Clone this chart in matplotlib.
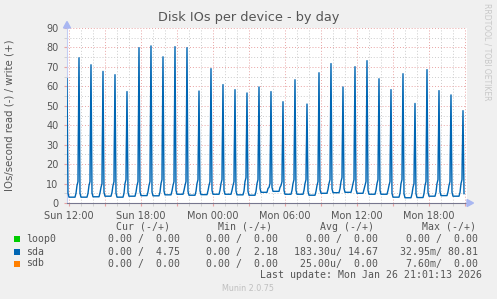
import matplotlib
matplotlib.use('Agg')
import matplotlib.pyplot as plt
import numpy as np
from matplotlib.patches import Rectangle, Polygon
from matplotlib.colors import LinearSegmentedColormap
from matplotlib.ticker import FixedLocator, FuncFormatter, MultipleLocator

W, H = 497, 299

# sda writes: peak of each burst, one burst every hour at hh:50 (first one at the left edge)
peaks = [64.0, 74.7, 71.1, 67.7, 66.0, 57.3, 79.9, 80.8, 75.2, 80.4, 79.9, 57.6,
         69.1, 60.9, 58.3, 56.6, 59.7, 57.3, 52.1, 63.4, 50.9, 67.0, 71.7, 59.7,
         70.1, 73.2, 63.9, 58.3, 66.5, 51.2, 68.6, 57.8, 55.6, 47.5]
# quiet level between two bursts
baselines = [3.0, 3.0, 3.2, 3.5, 3.0, 3.5, 3.8, 3.7, 4.2, 4.5, 4.0, 4.3, 4.5,
             4.5, 4.2, 4.0, 5.5, 6.0, 4.5, 4.5, 4.0, 5.0, 5.3, 5.5, 5.0, 4.5,
             4.5, 3.0, 2.7, 2.8, 3.5, 3.8, 3.5]
# level just before each burst
shoulders = [11, 11, 10, 11, 12, 11, 11, 12, 11, 11, 12, 11, 12, 11, 13, 12, 10,
             11, 12, 12, 11, 12, 13, 12, 11, 12, 11, 12, 10, 11, 12, 11, 12]
last_value = 4.8

tick_hours = [12, 18, 24, 30, 36, 42]
tick_labels = ['Sun 12:00', 'Sun 18:00', 'Mon 00:00', 'Mon 06:00', 'Mon 12:00', 'Mon 18:00']

legend_names = ['loop0', 'sda', 'sdb']
legend_colors = ['#00cc00', '#0066b3', '#ff8000']
cur_vals = ['0.00 /  0.00', '0.00 /  4.75', '0.00 /  0.00']
min_vals = ['0.00 /  0.00', '0.00 /  2.18', '0.00 /  0.00']
avg_vals = ['0.00 /  0.00', '183.30u/ 14.67', '25.00u/  0.00']
max_vals = ['0.00 /  0.00', '32.95m/ 80.81', '7.60m/  0.00']

# 5 minute samples, hours counted from Sun 00:00
step = 5 / 60
t, v = [], []
spike_idx = []
for k, p in enumerate(peaks):
    t0 = 11 + 50 / 60 + k
    spike_idx.append(len(t))
    t.append(t0)
    v.append(p)
    if k < len(baselines):
        b, s = baselines[k], shoulders[k]
        seg = [b + 2, b, b, b, b, b, b, b, b + 2, s - 2, s]
        for i, val in enumerate(seg):
            t.append(t0 + (i + 1) * step)
            v.append(val)
t.append(t[-1] + step)
v.append(last_value)

fig = plt.figure(figsize=(W / 100, H / 100), dpi=100)
fig.patch.set_facecolor('#f0f0f0')


def fx(x):
    return x / W


def fy(y):
    return 1 - y / H


ax = fig.add_axes([fx(67), fy(203), 400 / W, 175 / H])
ax.set_facecolor('white')

# light gradient on the rising side of each burst
cmap = LinearSegmentedColormap.from_list('burst', ['#f2f7fc', '#2f7fc0'])
grad = np.linspace(0, 1, 64).reshape(-1, 1)
for i in spike_idx:
    if i == 0:
        continue
    a = (t[i] - 2 * step, v[i - 1])
    c = (t[i] + step * 0.6, v[i - 1])
    tri = Polygon([a, (t[i], v[i]), c], closed=True, facecolor='none', edgecolor='none')
    ax.add_patch(tri)
    im = ax.imshow(grad, extent=[a[0], c[0], v[i - 1], v[i]], origin='lower',
                   cmap=cmap, aspect='auto', interpolation='bilinear', zorder=2)
    im.set_clip_path(tri)

ax.plot(t, v, color='#0066b3', lw=1.0, zorder=3)
ax.set_xlim(11 + 50 / 60, 45 + 10 / 60)
ax.set_ylim(0, 90)

ax.xaxis.set_major_locator(FixedLocator(range(12, 46, 3)))
ax.xaxis.set_minor_locator(MultipleLocator(1))
lab = dict(zip(tick_hours, tick_labels))
ax.xaxis.set_major_formatter(FuncFormatter(lambda x, pos: lab.get(int(round(x)), '')))
ax.yaxis.set_major_locator(MultipleLocator(10))
ax.yaxis.set_minor_locator(MultipleLocator(5))

ax.grid(which='major', color='#e8a3a3', ls=(0, (1, 2)), lw=0.7)
ax.grid(which='minor', color='#cccccc', ls=(0, (1, 2)), lw=0.7)
ax.set_axisbelow(True)

for s in ['top', 'right']:
    ax.spines[s].set_visible(False)
ax.spines['bottom'].set_color('#77778f')
ax.spines['left'].set_color('#c4ccf2')
ax.tick_params(which='major', length=2, color='#e8a3a3', labelsize=7, labelcolor='#555555', pad=4)
ax.tick_params(which='minor', length=2, color='#cccccc')
ax.tick_params(axis='x', which='major', pad=4)

fig.text(fx(10), fy(115.5), 'IOs/second read (-) / write (+)', rotation=90, ha='center',
         va='center', fontsize=7.3, color='#555555')

# axis arrows
fig.patches.append(Polygon([(fx(467), fy(199.5)), (fx(467), fy(206.5)), (fx(473.5), fy(203))],
                           closed=True, transform=fig.transFigure, color='#a9b7f2'))
fig.patches.append(Polygon([(fx(63.5), fy(28)), (fx(70.5), fy(28)), (fx(67), fy(21.5))],
                           closed=True, transform=fig.transFigure, color='#a9b7f2'))

fig.text(fx(248.5), fy(18), 'Disk IOs per device - by day', ha='center', va='center',
         fontsize=9.3, color='#555555')
fig.text(fx(487), fy(52), 'RRDTOOL / TOBI OETIKER', rotation=270, ha='center', va='center',
         fontsize=5.5, color='#c8c8c8')

mono = dict(family='DejaVu Sans Mono', fontsize=7.1, color='#555555', va='center')
rows = [239.3, 251.7, 263.5]
fig.text(fx(169.5), fy(226.7), 'Cur (-/+)', ha='right', **mono)
fig.text(fx(272), fy(226.7), 'Min (-/+)', ha='right', **mono)
fig.text(fx(374.5), fy(226.7), 'Avg (-/+)', ha='right', **mono)
fig.text(fx(476.5), fy(226.7), 'Max (-/+)', ha='right', **mono)
for i, name in enumerate(legend_names):
    y = rows[i]
    fig.patches.append(Rectangle((fx(13.5), fy(y + 3)), 6 / W, 6 / H, transform=fig.transFigure,
                                 facecolor=legend_colors[i], edgecolor='none'))
    fig.text(fx(26.5), fy(y), name, ha='left', **mono)
    fig.text(fx(179.5), fy(y), cur_vals[i], ha='right', **mono)
    fig.text(fx(278.5), fy(y), min_vals[i], ha='right', **mono)
    fig.text(fx(377.5), fy(y), avg_vals[i], ha='right', **mono)
    fig.text(fx(477.5), fy(y), max_vals[i], ha='right', **mono)
fig.text(fx(482.5), fy(275.5), 'Last update: Mon Jan 26 21:01:13 2026', ha='right', **mono)
fig.text(fx(248.5), fy(288.5), 'Munin 2.0.75', ha='center', va='center', fontsize=5.8, color='#c0c0c0')

fig.savefig('out.png', dpi=100, facecolor=fig.get_facecolor())
